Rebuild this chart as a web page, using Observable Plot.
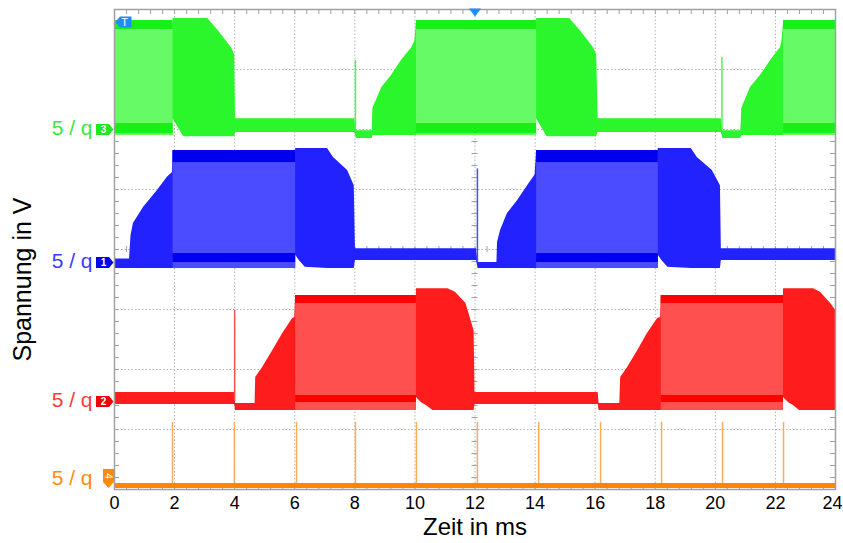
<!DOCTYPE html>
<html><head><meta charset="utf-8">
<script src="https://cdn.jsdelivr.net/npm/d3@7"></script>
<script src="https://cdn.jsdelivr.net/npm/@observablehq/plot@0.6"></script>
<style>body{margin:0;background:#fff;} svg{display:block;}</style>
</head><body><div id="chart"></div>
<script>
// ---------- data (time in ms, voltages in V, 5 V/div) ----------
const timeLabels = [0,2,4,6,8,10,12,14,16,18,20,22,24];
const gridT = [2,4,6,8,10,14,16,18,20,22];
const gridDiv = [1,2,3,5,6,7];
const centerT = [12];
const centerDiv = [4];
const voltsPerDiv = 5;

const channelIds = ["3","1","2","4"];
const channelGround = [6.0, 3.783, 1.467, 0.058]; // ground marker position in divisions
const channelLabels = ["5 / q","5 / q","5 / q","5 / q"];
const triggerLevelDiv = [7.79];

// Channel 3 (green) envelope
const greenT  = [0,1.95,1.95,2.3,3.1,3.45,3.9,4.0,4.03,8.0,8.05,8.58,8.6,8.9,9.22,9.55,9.9,10.0,10.05,14.05,14.05,14.4,15.15,15.5,15.95,16.05,16.1,20.2,20.25,20.85,20.88,21.17,21.5,21.84,22.17,22.22,22.27,24];
const greenHi = [8.9,8.9,9.25,9.25,9.25,8.25,6.8,6.2,0.9,0.9,-0.1,-0.1,1.75,3.5,4.5,5.75,6.83,7.4,8.9,8.9,9.25,9.25,9.25,8.25,6.8,6.2,0.9,0.9,-0.1,-0.1,1.75,3.5,4.5,5.75,6.83,7.4,8.9,8.9];
const greenLo = [-0.5,-0.5,0.9,-0.6,-0.6,-0.6,-0.6,-0.6,-0.25,-0.25,-0.75,-0.75,-0.5,-0.5,-0.5,-0.5,-0.5,-0.5,-0.5,-0.5,0.9,-0.6,-0.6,-0.6,-0.6,-0.6,-0.25,-0.25,-0.75,-0.75,-0.5,-0.5,-0.5,-0.5,-0.5,-0.5,-0.5,-0.5];
const greenBandStart = [0,10.05,22.27];
const greenBandEnd   = [1.95,14.05,24];
const greenBandLevels = {hi: 8.9, lo: -0.5, topHi: 9.08, topLo: 8.33, botHi: 0.5, botLo: -0.33};
const greenSpikeT = [8.02,20.22];
const greenSpikeV = [5.75,6.0];

// Channel 1 (blue) envelope
const blueT  = [0,0.5,0.55,0.63,0.97,1.43,1.76,1.93,1.95,6.03,6.03,6.15,6.35,7.09,7.29,7.76,7.98,8.02,12.05,12.1,12.73,12.75,12.85,13.08,13.42,13.75,14.0,14.05,18.1,18.1,18.22,18.42,19.2,19.4,19.9,20.17,20.2,24];
const blueHi = [0.3,0.3,2.25,3.25,4.6,6.0,7.1,7.5,9.33,9.33,9.5,9.5,9.5,9.5,8.75,7.67,6.4,1.15,1.15,0,0,1.67,2.67,4.08,5.17,6.4,7.3,9.33,9.33,9.5,9.5,9.5,9.5,8.75,7.67,6.4,1.15,1.15];
const blueLo = [-0.5,-0.5,-0.5,-0.5,-0.5,-0.5,-0.5,-0.5,-0.5,-0.5,0.6,0.17,-0.4,-0.5,-0.5,-0.5,-0.5,0.17,0.17,-0.5,-0.5,-0.5,-0.5,-0.5,-0.5,-0.5,-0.5,-0.5,-0.5,0.6,0.17,-0.4,-0.5,-0.5,-0.5,-0.5,0.17,0.17];
const blueBandStart = [1.95,14.05];
const blueBandEnd   = [6.03,18.1];
const blueBandLevels = {hi: 9.33, lo: -0.5, topHi: 9.33, topLo: 8.33, botHi: 0.75, botLo: 0.0};
const blueSpikeT = [12.08];
const blueSpikeV = [7.8];

// Channel 2 (red) envelope
const redT  = [0,4.0,4.03,4.68,4.7,4.93,5.27,5.6,5.93,6.0,6.03,10.05,10.05,10.22,10.38,10.6,11.1,11.35,11.7,11.97,12.0,16.1,16.13,16.82,16.85,17.08,17.42,17.74,18.08,18.18,18.2,22.27,22.27,22.44,22.6,22.8,23.27,23.5,23.84,24];
const redHi = [0.75,0.75,-0.17,-0.17,2.0,2.83,4.25,5.67,6.92,7.0,8.83,8.83,9.4,9.4,9.4,9.4,9.4,9.1,8.17,5.9,0.75,0.75,-0.17,-0.17,2.0,2.83,4.25,5.67,6.92,7.0,8.83,8.83,9.4,9.4,9.4,9.4,9.4,9.1,8.17,7.6];
const redLo = [-0.25,-0.25,-0.75,-0.75,-0.75,-0.75,-0.75,-0.75,-0.75,-0.75,-0.75,-0.75,0.33,-0.1,-0.33,-0.75,-0.75,-0.75,-0.75,-0.75,-0.25,-0.25,-0.75,-0.75,-0.75,-0.75,-0.75,-0.75,-0.75,-0.75,-0.75,-0.75,0.33,-0.1,-0.33,-0.75,-0.75,-0.75,-0.75,-0.75];
const redBandStart = [6.03,18.2];
const redBandEnd   = [10.05,22.27];
const redBandLevels = {hi: 8.83, lo: -0.75, topHi: 8.83, topLo: 8.17, botHi: 0.5, botLo: -0.08};
const redSpikeT = [4.0];
const redSpikeV = [7.6];

// Channel 4 (orange)
const orangeT  = [0,24];
const orangeHi = [0.2,0.2];
const orangeLo = [-0.2,-0.2];
const orangeSpikeT = [1.93,3.99,6.06,8.02,10.05,12.08,14.12,16.18,18.21,20.24,22.27];
const orangeSpikeV = [5.3,5.3,5.3,5.3,5.3,5.3,5.3,5.3,5.3,5.3,5.3];

// ---------- helpers ----------
const minorT = d3.range(0, 24.0001, 0.4);
const minorDiv = d3.range(0, 8.0001, 0.2);
const pxT = 721 / 24, pxDiv = 480 / 8;
const tickT = 5 / pxT, tickDiv = 5 / pxDiv;

function toDiv(ch, v) { return channelGround[ch] + v / voltsPerDiv; }

function envelope(ch, T, Hi, Lo, fill) {
  return Plot.areaY(T, {x: d => d, y1: (d, i) => toDiv(ch, Lo[i]), y2: (d, i) => toDiv(ch, Hi[i]), fill, curve: "linear"});
}
function bands(ch, S, E, L, light, dark) {
  return [
    Plot.rect(S, {x1: d => d, x2: (d, i) => E[i], y1: () => toDiv(ch, L.lo), y2: () => toDiv(ch, L.hi), fill: light}),
    Plot.rect(S, {x1: d => d, x2: (d, i) => E[i], y1: () => toDiv(ch, L.topLo), y2: () => toDiv(ch, L.topHi), fill: dark}),
    Plot.rect(S, {x1: d => d, x2: (d, i) => E[i], y1: () => toDiv(ch, L.botLo), y2: () => toDiv(ch, L.botHi), fill: dark})
  ];
}
function spikes(ch, T, V, stroke) {
  return Plot.ruleX(T, {x: d => d, y1: () => toDiv(ch, 0), y2: (d, i) => toDiv(ch, V[i]), stroke, strokeWidth: 1.5});
}

const pointerRight = {draw(ctx) { ctx.moveTo(-9,-5.5); ctx.lineTo(4,-5.5); ctx.lineTo(8.5,0); ctx.lineTo(4,5.5); ctx.lineTo(-9,5.5); ctx.closePath(); }};
const pointerDown = {draw(ctx) { ctx.moveTo(-5.5,-17); ctx.lineTo(5.5,-17); ctx.lineTo(5.5,-4); ctx.lineTo(0,2); ctx.lineTo(-5.5,-4); ctx.closePath(); }};
const pointerLeft = {draw(ctx) { ctx.moveTo(-8,0); ctx.lineTo(-3.5,-5.5); ctx.lineTo(8,-5.5); ctx.lineTo(8,5.5); ctx.lineTo(-3.5,5.5); ctx.closePath(); }};
const triDown = {draw(ctx) { ctx.moveTo(-6,-3); ctx.lineTo(6,-3); ctx.lineTo(0,5); ctx.closePath(); }};

const markerColors = ["#1ee81e", "#0000f0", "#f00000", "#ff8a00"];
const labelColors = ["#3be83b", "#3a3aff", "#ff3a3a", "#ff8a10"];
const chIndex = [0,1,2];

const gridStyle = {stroke: "#b4b4b4", strokeWidth: 1, strokeDasharray: "1.5,2"};
const frameStroke = "#a0a0a0";

const chart = Plot.plot({
  width: 843, height: 543,
  marginLeft: 114, marginRight: 8, marginTop: 9, marginBottom: 54,
  style: {fontFamily: "'Liberation Sans', Arial, sans-serif", fontSize: "18px", background: "#fff", overflow: "visible"},
  x: {domain: [0, 24], label: null, axis: null},
  y: {domain: [0, 8], axis: null},
  marks: [
    // grid
    Plot.ruleX(gridT, {x: d => d, ...gridStyle}),
    Plot.ruleY(gridDiv, {y: d => d, ...gridStyle}),
    Plot.ruleX(centerT, {x: d => d, ...gridStyle}),
    Plot.ruleY(centerDiv, {y: d => d, ...gridStyle}),
    // centre cross minor ticks
    Plot.ruleX(minorT, {x: d => d, y1: () => centerDiv[0] - tickDiv * 0.6, y2: () => centerDiv[0] + tickDiv * 0.6, stroke: frameStroke}),
    Plot.ruleY(minorDiv, {y: d => d, x1: () => centerT[0] - tickT * 0.6, x2: () => centerT[0] + tickT * 0.6, stroke: frameStroke}),
    // border minor ticks
    Plot.ruleX(minorT, {x: d => d, y1: () => 8, y2: () => 8 - tickDiv, stroke: frameStroke}),
    Plot.ruleX(minorT, {x: d => d, y1: () => 0, y2: () => tickDiv, stroke: frameStroke}),
    Plot.ruleY(minorDiv, {y: d => d, x1: () => 0, x2: () => tickT, stroke: frameStroke}),
    Plot.ruleY(minorDiv, {y: d => d, x1: () => 24, x2: () => 24 - tickT, stroke: frameStroke}),

    // channel 3 green
    envelope(0, greenT, greenHi, greenLo, "#2bf52b"),
    ...bands(0, greenBandStart, greenBandEnd, greenBandLevels, "#66fa66", "#16f016"),
    spikes(0, greenSpikeT, greenSpikeV, "#55f055"),
    // channel 1 blue
    envelope(1, blueT, blueHi, blueLo, "#2222ff"),
    ...bands(1, blueBandStart, blueBandEnd, blueBandLevels, "#4b4bff", "#0000ee"),
    spikes(1, blueSpikeT, blueSpikeV, "#4b4bff"),
    // channel 2 red
    envelope(2, redT, redHi, redLo, "#ff1c1c"),
    ...bands(2, redBandStart, redBandEnd, redBandLevels, "#ff5050", "#ff0000"),
    spikes(2, redSpikeT, redSpikeV, "#ff5050"),
    // channel 4 orange
    spikes(3, orangeSpikeT, orangeSpikeV, "#ffac5a"),
    envelope(3, orangeT, orangeHi, orangeLo, "#ff8400"),

    Plot.frame({stroke: frameStroke, strokeWidth: 1.5}),

    // x tick labels
    Plot.axisX(timeLabels.slice(0, -1), {tickSize: 0, tickPadding: 7, fontSize: 18, fill: "#000", label: null}),
    Plot.axisX(timeLabels.slice(-1), {tickSize: 0, tickPadding: 7, fontSize: 18, fill: "#000", label: null, dx: -3}),

    // channel markers
    Plot.dot(chIndex, {x: () => 0, y: i => channelGround[i], dx: -9.5, symbol: pointerRight, fill: i => markerColors[i], stroke: "none"}),
    Plot.text(chIndex, {x: () => 0, y: i => channelGround[i], dx: -11, text: i => channelIds[i], fill: "#fff", fontSize: 10, fontWeight: "bold"}),
    Plot.dot([3], {x: () => 0, y: i => channelGround[i], dx: -6, symbol: pointerDown, fill: markerColors[3], stroke: "none"}),
    Plot.text([3], {x: () => 0, y: i => channelGround[i], dx: -6, dy: -10, text: i => channelIds[i], fill: "#fff", fontSize: 10, rotate: 90}),
    Plot.text(chIndex, {x: () => 0, y: i => channelGround[i], dx: -22, dy: -1, text: i => channelLabels[i], fill: i => labelColors[i], fontSize: 21, textAnchor: "end"}),
    Plot.text([3], {x: () => 0, y: i => channelGround[i], dx: -22, dy: -8, text: i => channelLabels[i], fill: labelColors[3], fontSize: 21, textAnchor: "end"}),
    // trigger markers
    Plot.dot(triggerLevelDiv, {x: () => 0, y: d => d, dx: 9, symbol: pointerLeft, fill: "#1e8cff", stroke: "none"}),
    Plot.text(triggerLevelDiv, {x: () => 0, y: d => d, dx: 10, text: () => "T", fill: "#fff", fontSize: 11}),
    Plot.dot(centerT, {x: d => d, y: () => 8, dy: 2, symbol: triDown, fill: "#1e8cff", stroke: "none"}),

    // axis titles
    Plot.text(["Zeit in ms"], {frameAnchor: "bottom", dy: 38, fontSize: 24, fill: "#000", lineAnchor: "middle", textAnchor: "middle"}),
    Plot.text(["Spannung in V"], {frameAnchor: "left", dx: -92, dy: 30, rotate: -90, fontSize: 25, fill: "#000", lineAnchor: "middle", textAnchor: "middle"})
  ]
});
document.getElementById("chart").appendChild(chart);
</script>
</body></html>
